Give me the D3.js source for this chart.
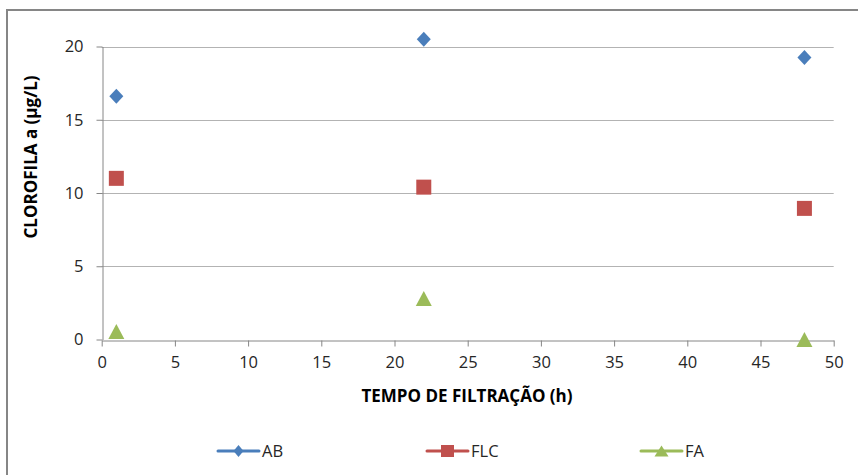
<!DOCTYPE html>
<html><head><meta charset="utf-8">
<script src="https://cdn.jsdelivr.net/npm/d3@7"></script>
<style>body{margin:0;background:#fff}svg{display:block}text{font-family:"Open Sans",sans-serif}</style>
</head><body>
<svg id="c" width="858" height="475"></svg>
<script>
const times = [1, 22, 48];
const seriesNames = ["AB", "FLC", "FA"];
const abValues = [16.6, 20.5, 19.25];
const flcValues = [11.0, 10.4, 8.95];
const faValues = [0.55, 2.8, 0.0];
const xTicks = [0,5,10,15,20,25,30,35,40,45,50];
const yTicks = [0,5,10,15,20];
const xTitle = "TEMPO DE FILTRAÇÃO (h)";
const yTitle = "CLOROFILA a (µg/L)";

const colors = {AB:"#4a7ebb", FLC:"#c0504d", FA:"#9bbb59"};
const values = {AB:abValues, FLC:flcValues, FA:faValues};

function marker(type, w, h){
  const p = d3.path();
  if(type==="AB"){ p.moveTo(0,-h/2); p.lineTo(w/2,0); p.lineTo(0,h/2); p.lineTo(-w/2,0); p.closePath(); }
  else if(type==="FLC"){ p.rect(-w/2,-h/2,w,h); }
  else { p.moveTo(0,-h/2); p.lineTo(w/2,h/2); p.lineTo(-w/2,h/2); p.closePath(); }
  return p.toString();
}
const plotSize = {AB:[14,15], FLC:[15,15], FA:[16,15]};
const legSize = {AB:[10,12], FLC:[13,12], FA:[14,11]};

const svg = d3.select("#c");
svg.append("path").attr("d","M7,475V10H858").attr("fill","none").attr("stroke","#868686").attr("stroke-width",2);

const x = d3.scaleLinear().domain([0,50]).range([101.7,833.7]);
const y = d3.scaleLinear().domain([0,20]).range([339.5,46.5]);

svg.append("g").selectAll("line").data(yTicks.filter(d=>d>0)).join("line")
  .attr("x1",x(0)).attr("x2",x(50)).attr("y1",d=>Math.round(y(d))+0.5).attr("y2",d=>Math.round(y(d))+0.5)
  .attr("stroke","#b3b3b3").attr("stroke-width",1);

const yAxis = svg.append("g").attr("transform",`translate(${Math.round(x(0))+0.5},0)`)
  .call(d3.axisLeft(y).tickValues(yTicks).tickSize(6).tickSizeOuter(0).tickPadding(13).tickFormat(d3.format("d")));
const xAxis = svg.append("g").attr("transform",`translate(0,${Math.round(y(0))+0.5})`)
  .call(d3.axisBottom(x).tickValues(xTicks).tickSize(6).tickSizeOuter(0).tickPadding(10).tickFormat(d3.format("d")));
[yAxis,xAxis].forEach(a=>{
  a.select(".domain").attr("stroke","#868686");
  a.selectAll(".tick line").attr("stroke","#868686");
  a.selectAll("text").attr("font-size",16.5).attr("fill","#262626").attr("font-family","'Open Sans',sans-serif");
});
xAxis.selectAll(".tick text").attr("dy","0.71em");

seriesNames.forEach(s=>{
  svg.append("g").selectAll("path").data(times.map((t,i)=>[t,values[s][i]])).join("path")
    .attr("transform",d=>`translate(${x(d[0])},${y(d[1])})`)
    .attr("d",marker(s, plotSize[s][0], plotSize[s][1]))
    .attr("fill",colors[s]);
});

svg.append("text").attr("x",467).attr("y",401.5).attr("text-anchor","middle")
  .attr("font-size",17).attr("font-weight","bold").attr("fill","#000").text(xTitle);
svg.append("text").attr("transform","translate(37,157) rotate(-90)").attr("text-anchor","middle")
  .attr("font-size",17).attr("font-weight","bold").attr("fill","#000").text(yTitle);

const legX = [218, 427, 641];
const lg = svg.append("g").selectAll("g").data(seriesNames).join("g")
  .attr("transform",(d,i)=>`translate(${legX[i]},451)`);
lg.append("line").attr("x1",0).attr("x2",41).attr("stroke",d=>colors[d]).attr("stroke-width",3).attr("stroke-linecap","round");
lg.append("path").attr("transform","translate(20.5,0)")
  .attr("d",d=>marker(d, legSize[d][0], legSize[d][1])).attr("fill",d=>colors[d]);
lg.append("text").attr("x",44).attr("y",0).attr("dy","0.36em").attr("font-size",16.5).attr("fill","#262626").text(d=>d);
</script>
</body></html>
